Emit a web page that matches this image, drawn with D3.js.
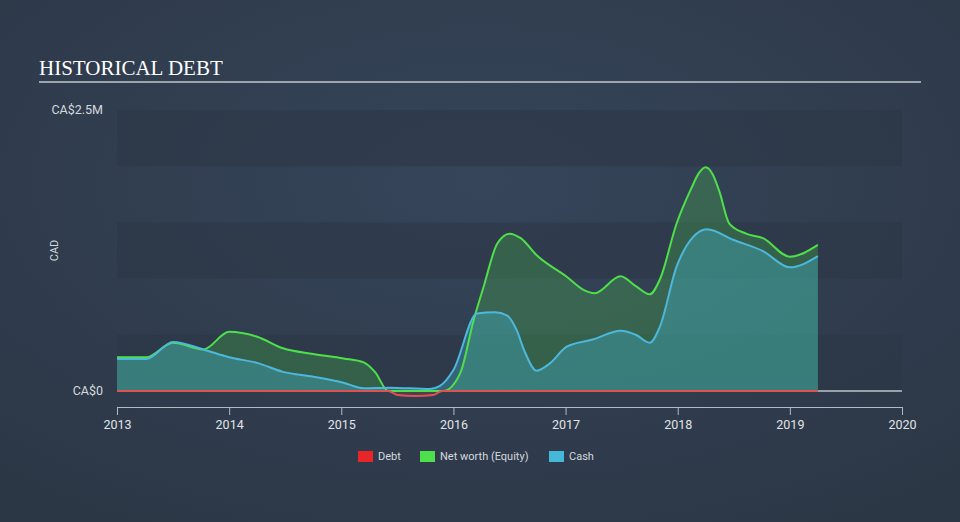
<!DOCTYPE html>
<html><head><meta charset="utf-8">
<script src="https://cdn.jsdelivr.net/npm/d3@7"></script>
<style>html,body{margin:0;padding:0;background:#333f4f;}svg{display:block;}</style>
</head><body>
<svg id="c" width="960" height="522"></svg>
<script>
// ---- data (values in CA$ millions, x = decimal year) ----
const netWorthX = [2013.0,2013.26,2013.5,2013.77,2014.0,2014.25,2014.48,2014.75,2015.02,2015.2,2015.3,2015.42,2015.6,2015.91,2016.06,2016.18,2016.27,2016.39,2016.5,2016.6,2016.74,2017.01,2017.16,2017.26,2017.49,2017.63,2017.75,2017.84,2017.99,2018.12,2018.19,2018.25,2018.31,2018.37,2018.46,2018.61,2018.76,2019.0,2019.25];
const netWorthY = [0.30,0.30,0.43,0.37,0.527,0.483,0.38,0.33,0.29,0.255,0.17,0.0,0.0,0.0,0.157,0.63,0.93,1.31,1.40,1.36,1.21,1.017,0.9,0.87,1.02,0.93,0.86,0.99,1.49,1.80,1.94,1.99,1.93,1.78,1.49,1.40,1.36,1.195,1.30];
const cashX = [2013.0,2013.26,2013.5,2013.77,2014.0,2014.25,2014.48,2014.75,2015.02,2015.2,2015.43,2015.79,2015.88,2016.0,2016.21,2016.37,2016.48,2016.56,2016.64,2016.74,2016.86,2017.01,2017.25,2017.49,2017.63,2017.75,2017.84,2017.99,2018.14,2018.26,2018.5,2018.76,2019.0,2019.25];
const cashY = [0.285,0.285,0.436,0.37,0.30,0.25,0.17,0.127,0.074,0.025,0.03,0.018,0.045,0.187,0.69,0.70,0.67,0.55,0.34,0.18,0.246,0.394,0.46,0.536,0.498,0.43,0.57,1.106,1.373,1.44,1.343,1.245,1.10,1.20];
const debtX = [2013.0,2015.42,2015.5,2015.66,2015.82,2015.9,2019.25];
const debtY = [0,0,-0.035,-0.045,-0.035,0,0];
const yearTicks = [2013,2014,2015,2016,2017,2018,2019,2020];
const yTickValues = [0,2.5];
const yTickLabels = ["CA$0","CA$2.5M"];
const legendItems = ["Debt","Net worth (Equity)","Cash"];

const svg = d3.select("#c");
const W = 960, H = 522;
const m = {left:117, right:58, top:110, bottom:131};

// background gradient
const defs = svg.append("defs");
const g = defs.append("radialGradient").attr("id","bg").attr("cx","50%").attr("cy","35%").attr("r","75%");
g.append("stop").attr("offset","0%").attr("stop-color","#36455a");
g.append("stop").attr("offset","100%").attr("stop-color","#2c3746");
svg.append("rect").attr("width",W).attr("height",H).attr("fill","url(#bg)");

const x = d3.scaleLinear().domain([2013,2020]).range([m.left, W-m.right]);
const y = d3.scaleLinear().domain([0,2.5]).range([H-m.bottom, m.top]);

// bands
const bandEdges = d3.range(0,2.51,0.5);
for (let i=0;i<5;i++){
  if (i%2===0){
    svg.append("rect").attr("x",x(2013)).attr("width",x(2020)-x(2013))
      .attr("y",y(bandEdges[i+1])).attr("height",y(bandEdges[i])-y(bandEdges[i+1]))
      .attr("fill","#2b3645").attr("opacity",0.55);
  }
}

// title
svg.append("text").attr("x",39).attr("y",75).text("HISTORICAL DEBT")
  .attr("font-family","Liberation Serif, DejaVu Serif, serif").attr("font-size",21).attr("fill","#ffffff");
svg.append("line").attr("x1",39).attr("x2",921).attr("y1",82).attr("y2",82).attr("stroke","#c3c7cc").attr("stroke-width",1.5);

// y labels
const font = "Roboto, 'Open Sans', Arial, sans-serif";
svg.selectAll(".yl").data(yTickValues).enter().append("text")
  .attr("x",103).attr("y",d=>y(d)+4).attr("text-anchor","end")
  .attr("font-family",font).attr("font-size",12.5).attr("fill","#d5d9de")
  .text((d,i)=>yTickLabels[i]);
svg.append("text").attr("transform",`translate(58,${(y(0)+y(2.5))/2}) rotate(-90)`)
  .attr("text-anchor","middle").attr("font-family",font).attr("font-size",11).attr("fill","#d5d9de").text("CAD");

// zero baseline gray
svg.append("line").attr("x1",x(2013)).attr("x2",x(2020)).attr("y1",y(0)).attr("y2",y(0))
  .attr("stroke","#9aa0a8").attr("stroke-width",2);

const curve = d3.curveMonotoneX;
const nw = netWorthX.map((v,i)=>[v,netWorthY[i]]);
const cs = cashX.map((v,i)=>[v,cashY[i]]);
const db = debtX.map((v,i)=>[v,debtY[i]]);

const area = d3.area().x(d=>x(d[0])).y0(y(0)).y1(d=>y(d[1])).curve(curve);
const line = d3.line().x(d=>x(d[0])).y(d=>y(d[1])).curve(curve);

svg.append("path").attr("d",area(nw)).attr("fill","#4bd24b").attr("fill-opacity",0.25);
svg.append("path").attr("d",area(cs)).attr("fill","#45b8d6").attr("fill-opacity",0.35);
svg.append("path").attr("d",area(db)).attr("fill","#e84a4a").attr("fill-opacity",0.15)
  .attr("stroke","#e05252").attr("stroke-opacity",0.5).attr("stroke-width",1);

svg.append("path").attr("d",line(nw)).attr("fill","none").attr("stroke","#4ee04a").attr("stroke-width",2);
svg.append("path").attr("d",line(cs)).attr("fill","none").attr("stroke","#4cb8dc").attr("stroke-width",2);
svg.append("path").attr("d",line(db)).attr("fill","none").attr("stroke","#e05252").attr("stroke-width",2);

// x axis
const axG = svg.append("g").attr("transform",`translate(0,407)`)
  .call(d3.axisBottom(x).tickValues(yearTicks).tickFormat(d3.format("d")).tickSize(8).tickSizeOuter(0));
axG.select(".domain").attr("stroke","#b3bac4");
axG.selectAll(".tick line").attr("stroke","#b3bac4");
axG.selectAll("text").attr("font-family",font).attr("font-size",12.5).attr("fill","#e0e3e7").attr("dy","0.9em");

// legend
const colors = ["#e8262a","#4ee04a","#45b8d8"];
const lx = [358,420,549];
legendItems.forEach((t,i)=>{
  svg.append("rect").attr("x",lx[i]).attr("y",451).attr("width",15).attr("height",11).attr("fill",colors[i]);
  svg.append("text").attr("x",lx[i]+20).attr("y",460).attr("font-family",font).attr("font-size",11)
    .attr("fill","#d5d9de").text(t);
});
</script>
</body></html>
